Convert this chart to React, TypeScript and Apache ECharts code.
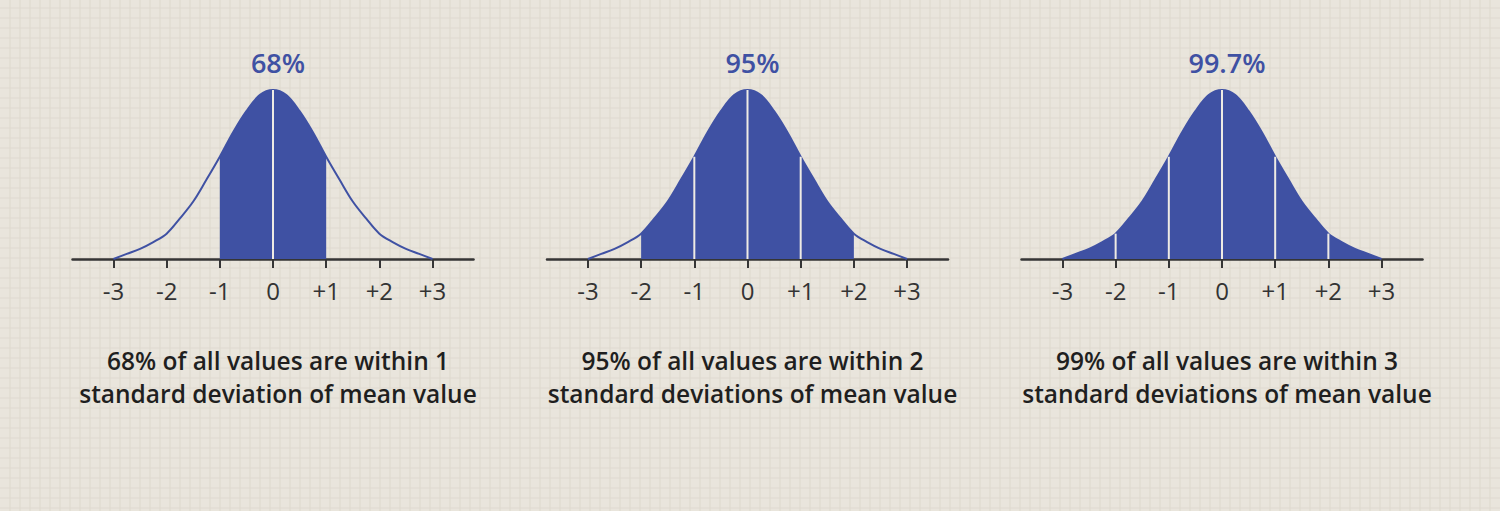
import React, { useEffect, useRef } from "react";
import * as echarts from "echarts";

// bell curve (height at each sigma step)
const curveX = [-3, -2.75, -2.5, -2.25, -2, -1.75, -1.5, -1.25, -1, -0.75, -0.5, -0.25, 0,
  0.25, 0.5, 0.75, 1, 1.25, 1.5, 1.75, 2, 2.25, 2.5, 2.75, 3];
const curveY = [0, 0.012, 0.024, 0.04, 0.06, 0.096, 0.136, 0.188, 0.242, 0.3, 0.35, 0.388, 0.4,
  0.388, 0.35, 0.3, 0.242, 0.188, 0.136, 0.096, 0.06, 0.04, 0.024, 0.012, 0];

const tickValues = [-3, -2, -1, 0, 1, 2, 3];
const tickLabels = ["-3", "-2", "-1", "0", "+1", "+2", "+3"];

const panelTitles = ["68%", "95%", "99.7%"];
const panelSpans = [1, 2, 3];
const panelCaptions = [
  "68% of all values are within 1\nstandard deviation of mean value",
  "95% of all values are within 2\nstandard deviations of mean value",
  "99% of all values are within 3\nstandard deviations of mean value",
];

const BLUE = "#3f51a3";
const BG = "#e9e5dc";
const FONT = "'Open Sans', 'Noto Sans', sans-serif";

const App: React.FC = () => {
  const chartRef = useRef<HTMLDivElement>(null);

  useEffect(() => {
    document.body.style.margin = "0";
    const dom = chartRef.current;
    if (!dom) return;
    const chart = echarts.init(dom, undefined, { renderer: "svg" });

    const centers = [273, 747.5, 1222];
    const halfWidth = 200.5;

    // paper grid behind everything
    const paper: any[] = [];
    for (let x = 10; x < 1500; x += 10) {
      paper.push({
        type: "line",
        shape: { x1: x, y1: 0, x2: x, y2: 511 },
        style: { stroke: "#dfdacf", lineWidth: 1.2 },
        silent: true,
      });
    }
    for (let y = 8; y < 511; y += 10) {
      paper.push({
        type: "line",
        shape: { x1: 0, y1: y, x2: 1500, y2: y },
        style: { stroke: "#dfdacf", lineWidth: 1.2 },
        silent: true,
      });
    }

    const curve = curveX.map((x, i) => [x, curveY[i]]);

    const series: any[] = [];
    panelSpans.forEach((k, i) => {
      series.push({
        type: "line",
        xAxisIndex: i,
        yAxisIndex: i,
        data: curve.filter((p) => Math.abs(p[0]) <= k),
        smooth: 0.35,
        showSymbol: false,
        lineStyle: { width: 0 },
        areaStyle: { color: BLUE, opacity: 1 },
        z: 3,
      });
      series.push({
        type: "line",
        xAxisIndex: i,
        yAxisIndex: i,
        data: curve,
        smooth: 0.35,
        showSymbol: false,
        lineStyle: { color: BLUE, width: 2 },
        z: 4,
      });
      series.push({
        type: "custom",
        xAxisIndex: i,
        yAxisIndex: i,
        data: curve.filter((p) => Number.isInteger(p[0]) && Math.abs(p[0]) < k),
        renderItem: (params: any, api: any) => {
          const p0 = api.coord([api.value(0), 0]);
          const p1 = api.coord([api.value(0), api.value(1)]);
          return {
            type: "line",
            shape: { x1: p0[0], y1: p0[1], x2: p1[0], y2: p1[1] },
            style: { stroke: "#eeebe4", lineWidth: 2 },
          };
        },
        z: 5,
      });
    });

    const option: echarts.EChartsOption = {
      animation: false,
      backgroundColor: BG,
      graphic: { elements: paper },
      title: [
        ...panelTitles.map((t, i) => ({
          text: t,
          left: centers[i],
          top: 44,
          textAlign: "center" as const,
          textStyle: { color: BLUE, fontSize: 27, fontWeight: 600, fontFamily: FONT },
        })),
        ...panelCaptions.map((t, i) => ({
          text: t,
          left: centers[i],
          top: 339,
          textAlign: "center" as const,
          textStyle: {
            color: "#1f1f1f",
            fontSize: 24.5,
            fontWeight: 600,
            lineHeight: 33,
            fontFamily: FONT,
          },
        })),
      ],
      grid: centers.map((c) => ({
        left: c - halfWidth,
        width: halfWidth * 2,
        top: 90,
        height: 169,
      })),
      xAxis: centers.map((_, i) => ({
        type: "value",
        gridIndex: i,
        min: -3.77,
        max: 3.77,
        axisLine: { lineStyle: { color: "#353535", width: 2.5 } },
        axisTick: {
          show: true,
          customValues: tickValues,
          length: 9,
          lineStyle: { color: "#353535", width: 2 },
        },
        axisLabel: {
          customValues: tickValues,
          formatter: (v: number) => tickLabels[tickValues.indexOf(v)] ?? "",
          color: "#333",
          fontSize: 24,
          margin: 19,
          fontFamily: FONT,
        },
        splitLine: { show: false },
      })),
      yAxis: centers.map((_, i) => ({
        type: "value",
        gridIndex: i,
        min: 0,
        max: 0.4,
        show: false,
        splitLine: { show: false },
      })),
      series,
    };

    chart.setOption(option);
    return () => {
      chart.dispose();
    };
  }, []);

  return <div ref={chartRef} style={{ width: "1500px", height: "511px" }} />;
};

export default App;
